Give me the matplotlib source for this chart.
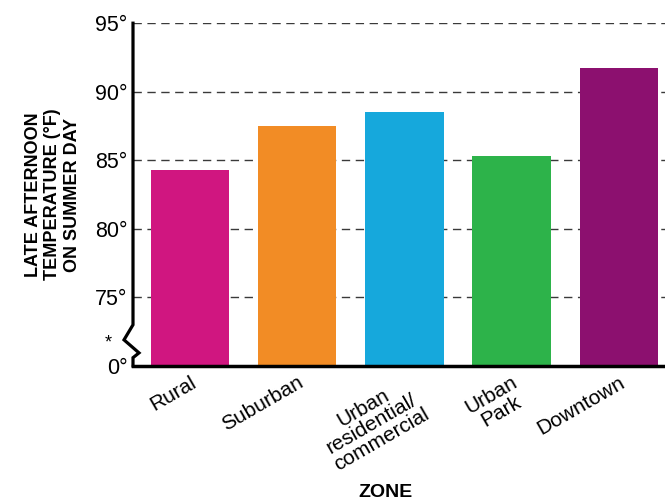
import matplotlib.pyplot as plt
from matplotlib.lines import Line2D

plt.rcParams['font.family'] = ['Liberation Sans', 'DejaVu Sans']

# zones and late-afternoon temperatures (deg F)
zones = ['Rural', 'Suburban', 'Urban\nresidential/\ncommercial', 'Urban\nPark', 'Downtown']
temps = [84.3, 87.5, 88.5, 85.3, 91.7]
colors = ['#d01680', '#f28c25', '#16a8dc', '#2db34a', '#8c106f']

ytick_vals = [70, 75, 80, 85, 90, 95]
ytick_labels = ['0°', '75°', '80°', '85°', '90°', '95°']

fig = plt.figure(figsize=(6.65, 5.04), dpi=100)
ax = fig.add_axes([0.2, 0.274, 0.8, 0.68])

# dashed guide lines behind the bars
for v in ytick_vals[1:]:
    ax.axhline(v, color='#3a3a3a', lw=1.0, ls=(0, (6, 4)), zorder=0)

x = range(len(zones))
ax.bar(x, [t - 70 for t in temps], bottom=70, width=0.73, color=colors, zorder=2)

ax.set_xlim(-0.53, 4.43)
ax.set_ylim(70, 95)
ax.set_yticks(ytick_vals)
ax.set_yticklabels(ytick_labels, fontsize=15.5)
ax.tick_params(axis='y', length=0, pad=4)
ax.set_xticks(list(x))
ax.set_xticklabels(zones, fontsize=15, rotation=30, rotation_mode='anchor',
                   ha='right', va='top', multialignment='center', linespacing=0.95)
ax.tick_params(axis='x', length=0, pad=5)

for s in ['top', 'right', 'left']:
    ax.spines[s].set_visible(False)
ax.spines['bottom'].set_linewidth(2.5)

# left axis with a break between 0 and 75
trans = ax.get_yaxis_transform()
px = 1 / (0.8 * 665)
xs = [0, 0, -9 * px, 6 * px, 0, 0]
ys = [95, 73.0, 71.9, 70.95, 70.6, 70]
ax.add_line(Line2D(xs, ys, transform=trans, color='black', lw=2.3,
                   clip_on=False, zorder=3, solid_joinstyle='miter'))
ax.text(-25 * px, 71.7, '*', transform=trans, fontsize=13, ha='center', va='center')

ax.set_ylabel('LATE AFTERNOON\nTEMPERATURE (°F)\nON SUMMER DAY', fontsize=13,
              fontweight='bold', linespacing=1.2, labelpad=10)
fig.text(0.58, 0.023, 'ZONE', fontsize=14, fontweight='bold', ha='center', va='center')

plt.savefig('out.png', dpi=100)
